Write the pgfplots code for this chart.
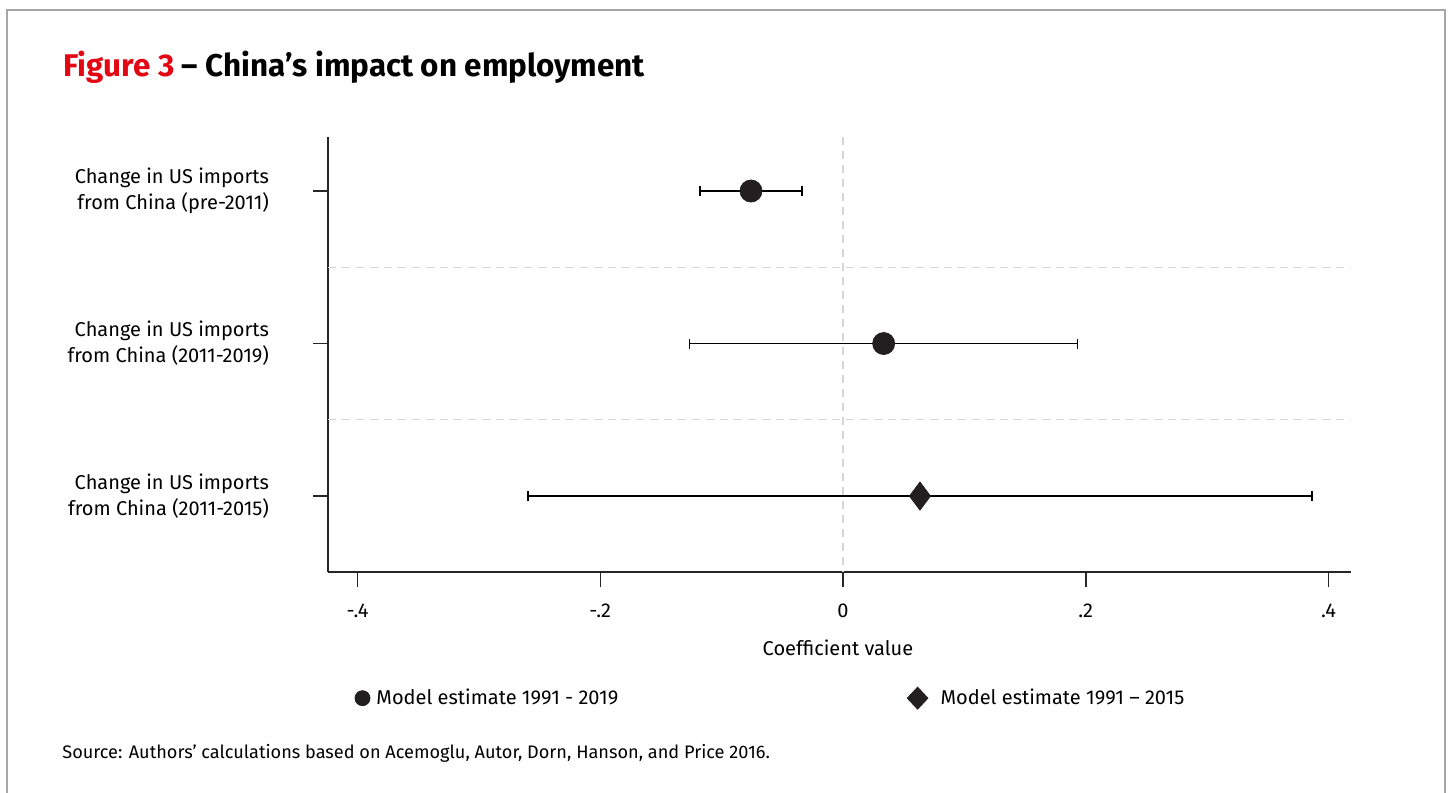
\documentclass[border=0pt]{standalone}
\usepackage{pgfplots}
\pgfplotsset{compat=1.18}
\usepackage{pgfplotstable}
\usepackage{fontspec}
\setmainfont{Fira Sans}
\definecolor{figred}{HTML}{E30613}
\definecolor{mk}{HTML}{231F20}
\definecolor{framegray}{HTML}{A6A6A6}
\definecolor{dashgray}{HTML}{D6D6D6}

\pgfplotsset{
  legcirc/.style={legend image code/.code={\draw[##1] plot coordinates {(0pt,0pt)}; \path[draw=none,fill=none] (-3.75pt,0pt) -- (5pt,0pt);}},
  legdiam/.style={legend image code/.code={\draw[##1] plot coordinates {(0pt,0pt)}; \path[draw=none,fill=none] (-5pt,0pt) -- (9.5pt,0pt);}},
}

\pgfplotstableread{
row x xerr
1 -0.0758 0.042
2 0.0335 0.160
}\circdata
\pgfplotstableread{
row x xerr
3 0.0634 0.323
}\diamdata

\begin{document}
\begin{tikzpicture}
\useasboundingbox (0,0) rectangle (726.5pt,-396.5pt);
\draw[framegray, line width=1pt] (3.5pt,-400pt) -- (3.5pt,-5pt) -- (722.5pt,-5pt) -- (722.5pt,-400pt);
\node[anchor=base west, inner sep=0pt] at (31.5pt,-38pt) {\fontsize{15.7}{19}\selectfont\bfseries\textcolor{figred}{Figure 3} – China’s impact on employment};
\node[anchor=base west, inner sep=0pt] at (31pt,-379pt) {\fontsize{9.07}{11}\selectfont Source: Authors’ calculations based on Acemoglu, Autor, Dorn, Hanson, and Price 2016.};
\begin{axis}[
  at={(164pt,-286pt)}, anchor=south west,
  scale only axis, width=511.5pt, height=217.5pt,
  xmin=-0.4243, xmax=0.4185, ymin=0.646, ymax=3.498, y dir=reverse,
  axis x line*=bottom, axis y line*=left,
  axis line style={line width=0.75pt, black!85},
  tick style={line width=0.75pt, black!85},
  tick align=outside, major tick length=7.5pt,
  xtick={-0.4,-0.2,0,0.2,0.4},
  xticklabels={-.4,-.2,0,.2,.4},
  ytick={1,2,3},
  yticklabels={{Change in US imports\\from China (pre-2011)},{Change in US imports\\from China (2011-2019)},{Change in US imports\\from China (2011-2015)}},
  yticklabel style={align=right, font=\fontsize{10}{13}\selectfont, xshift=-18.5pt},
  xticklabel style={font=\fontsize{10}{12}\selectfont, yshift=-5pt},
  xlabel={Coefficient value},
  xlabel style={at={(axis description cs:0.4985,-0.1747)}, anchor=center, font=\fontsize{10}{12}\selectfont},
  legend columns=2,
  legend style={at={(axis description cs:0.026,-0.29)}, anchor=west, draw=none, fill=none, inner sep=0pt,
    font=\fontsize{10}{12}\selectfont,
    /tikz/every even column/.append style={column sep=142.5pt}},
  clip=false,
]
\addplot[color=dashgray, dash pattern=on 4pt off 3pt, line width=0.6pt, forget plot] coordinates {(0,0.646) (0,3.498)};
\addplot[color=dashgray, dash pattern=on 4pt off 3pt, line width=0.6pt, forget plot] coordinates {(-0.4243,1.5) (0.4185,1.5)};
\addplot[color=dashgray, dash pattern=on 4pt off 3pt, line width=0.6pt, forget plot] coordinates {(-0.4243,2.5) (0.4185,2.5)};
\addplot[only marks, mark=*, mark size=5.5pt, mark options={fill=mk, draw=mk}, forget plot,
  error bars/.cd, x dir=both, x explicit, error bar style={line width=0.6pt, black},
  error mark=|, error mark options={line width=0.6pt, mark size=2.5pt, black}]
  table[x=x, y=row, x error=xerr] {\circdata};
\addplot[only marks, mark=diamond*, mark size=7pt, mark options={fill=mk, draw=mk}, forget plot,
  error bars/.cd, x dir=both, x explicit, error bar style={line width=0.6pt, black},
  error mark=|, error mark options={line width=0.6pt, mark size=2.5pt, black}]
  table[x=x, y=row, x error=xerr] {\diamdata};
\addlegendimage{only marks, mark=*, mark size=3.75pt, mark options={fill=mk, draw=mk}, legcirc}
\addlegendentry{Model estimate 1991 - 2019}
\addlegendimage{only marks, mark=diamond*, mark size=5.5pt, mark options={fill=mk, draw=mk, xscale=1.25}, legdiam}
\addlegendentry{Model estimate 1991 – 2015}
\end{axis}
\end{tikzpicture}
\end{document}
